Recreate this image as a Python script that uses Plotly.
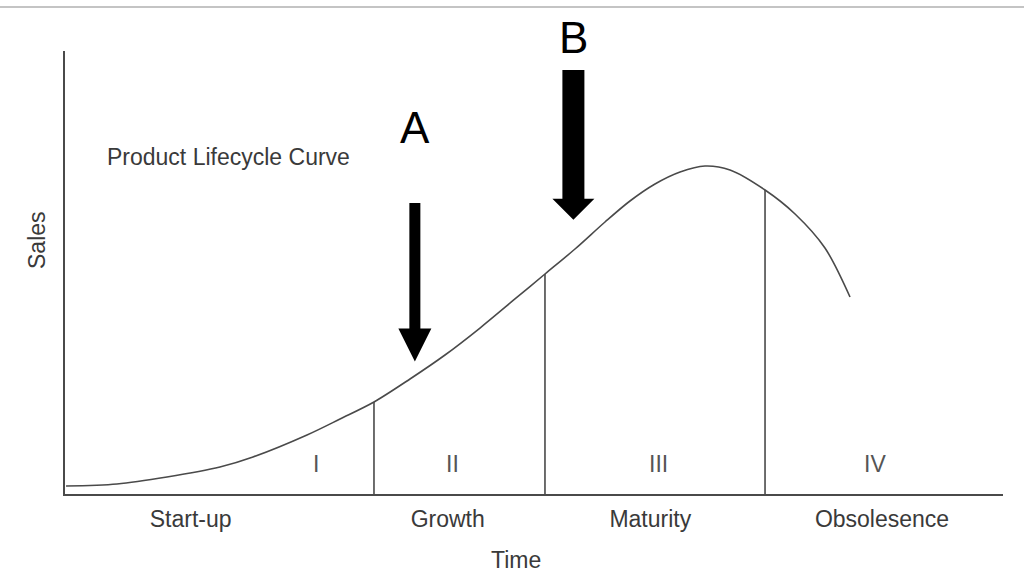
import plotly.graph_objects as go

# ---- data (Time and Sales in arbitrary 0-100 units) ----
curve_time = [0.11, 5.54, 10.87, 16.52, 20.04, 25.80, 29.32, 32.94, 36.78, 40.51, 44.24,
              47.97, 51.17, 54.37, 57.57, 60.23, 62.90, 65.57, 68.23, 70.90, 74.63,
              77.83, 81.02, 83.69]
curve_sales = [1.81, 2.26, 3.84, 6.09, 8.35, 13.32, 16.93, 20.77, 25.96, 31.38, 37.47,
               44.02, 49.66, 55.30, 61.40, 66.14, 69.98, 72.69, 74.04, 73.14, 68.62,
               63.21, 55.53, 44.47]

boundary_time = [32.94, 51.17, 74.63]
boundary_sales = [20.77, 49.66, 68.62]

phase_names = ["Start-up", "Growth", "Maturity", "Obsolesence"]
phase_label_time = [13.4, 40.8, 62.4, 87.1]
phase_numerals = ["I", "II", "III", "IV"]
numeral_time = [26.8, 41.3, 63.3, 86.4]
numeral_sales = [6.7, 6.7, 6.7, 6.7]

arrow_labels = ["A", "B"]
arrow_time = [37.3, 54.2]
arrow_tip_sales = [29.9, 61.9]
arrow_top_sales = [65.7, 95.7]

# ---- figure geometry / styles ----
W, H = 1024, 587
ML, MR, MT, MB = 65, 21, 51, 93
plot_w = W - ML - MR
plot_h = H - MT - MB
px_t = plot_w / 100.0   # pixels per time unit
px_s = plot_h / 100.0   # pixels per sales unit

FONT = "Arial, Liberation Sans, sans-serif"
TXT = "#3a3a3a"
LINE = "#4a4a4a"
FS = 23

arrow_shaft_px = [11, 22]
arrow_head_w_px = [33, 42]
arrow_head_len_px = [33, 21]
label_shift = [75, 33]

fig = go.Figure()

fig.add_trace(go.Scatter(
    x=curve_time, y=curve_sales, mode="lines",
    line=dict(color=LINE, width=1.6, shape="spline", smoothing=0.9),
    hoverinfo="skip", showlegend=False))

bx, by = [], []
for t, s in zip(boundary_time, boundary_sales):
    bx += [t, t, None]
    by += [0, s, None]
fig.add_trace(go.Scatter(
    x=bx, y=by, mode="lines", line=dict(color=LINE, width=1.6),
    hoverinfo="skip", showlegend=False))

annotations = []
for t, tip, top, sw, hw, hl, lab, ls in zip(arrow_time, arrow_tip_sales, arrow_top_sales,
                                             arrow_shaft_px, arrow_head_w_px,
                                             arrow_head_len_px, arrow_labels, label_shift):
    s2 = sw / 2 / px_t
    h2 = hw / 2 / px_t
    base = tip + hl / px_s
    xs = [t - s2, t + s2, t + s2, t + h2, t, t - h2, t - s2, t - s2]
    ys = [top, top, base, base, tip, base, base, top]
    fig.add_trace(go.Scatter(
        x=xs, y=ys, mode="lines", fill="toself", fillcolor="#000000",
        line=dict(width=0, color="#000000"), hoverinfo="skip", showlegend=False))
    annotations.append(dict(
        x=t, y=top, xref="x", yref="y", yshift=ls, text=lab, showarrow=False,
        xanchor="center", yanchor="middle",
        font=dict(family=FONT, size=44, color="#000000")))

for name, t, s in zip(phase_numerals, numeral_time, numeral_sales):
    annotations.append(dict(x=t, y=s, xref="x", yref="y", text=name, showarrow=False,
                            xanchor="center", yanchor="middle",
                            font=dict(family=FONT, size=FS, color="#555555")))

annotations.append(dict(
    x=(105 - ML) / plot_w, y=(H - MB - 157) / plot_h, xref="paper", yref="paper",
    xanchor="left", yanchor="middle", text="Product Lifecycle Curve", showarrow=False,
    font=dict(family=FONT, size=FS, color=TXT)))
annotations.append(dict(
    x=(516 - ML) / plot_w, y=(H - MB - 560) / plot_h, xref="paper", yref="paper",
    xanchor="center", yanchor="middle",
    text="Time", showarrow=False, font=dict(family=FONT, size=FS, color=TXT)))
annotations.append(dict(
    x=(37 - ML) / plot_w, y=(H - MB - 240) / plot_h, xref="paper", yref="paper",
    xanchor="center", yanchor="middle",
    text="Sales", textangle=-90, showarrow=False,
    font=dict(family=FONT, size=FS, color=TXT)))

fig.update_layout(
    width=W, height=H,
    margin=dict(l=ML, r=MR, t=MT, b=MB, pad=0),
    paper_bgcolor="white", plot_bgcolor="white",
    showlegend=False,
    annotations=annotations,
    shapes=[dict(type="line", xref="paper", yref="paper",
                 x0=-ML / plot_w, x1=(W - ML) / plot_w,
                 y0=(H - MB - 7) / plot_h, y1=(H - MB - 7) / plot_h,
                 line=dict(color="#c4c4c4", width=2))],
    xaxis=dict(range=[0, 100], showgrid=False, zeroline=False, showline=True,
               linecolor=LINE, linewidth=2, ticks="", tickvals=phase_label_time,
               ticktext=phase_names, ticklabelstandoff=3,
               tickfont=dict(family=FONT, size=FS, color=TXT)),
    yaxis=dict(range=[0, 100], showgrid=False, zeroline=False, showline=True,
               linecolor=LINE, linewidth=2, ticks="", showticklabels=False),
)

fig.write_html("out.html", config={"displayModeBar": False},
               post_script="document.body.style.margin='0px';")
